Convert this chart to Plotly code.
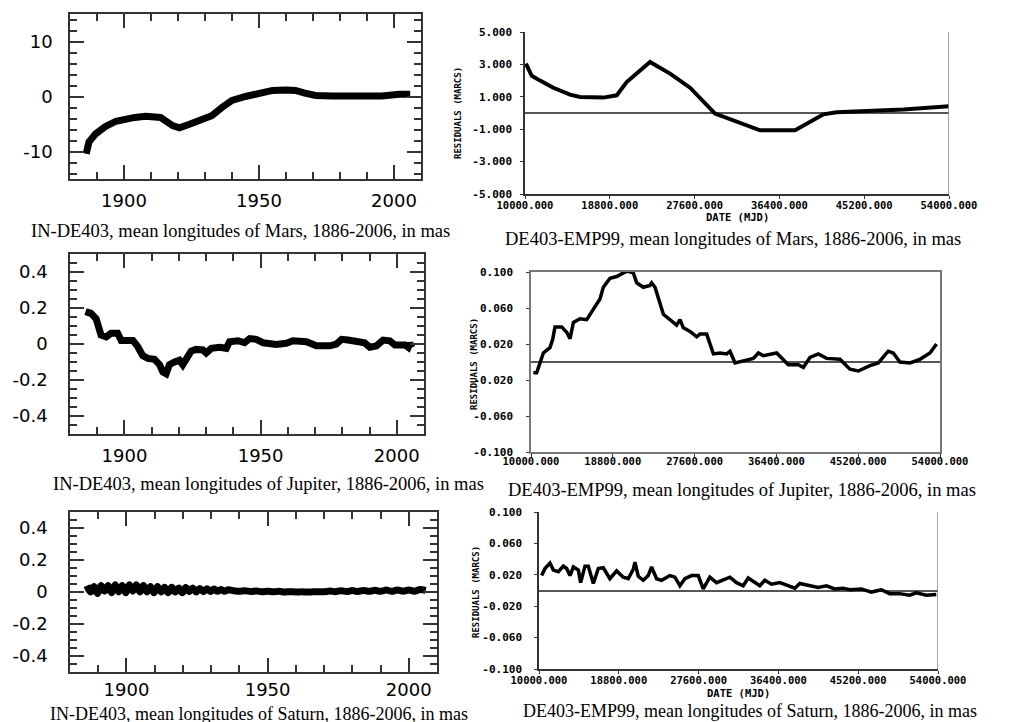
import plotly.graph_objects as go

W, H = 1030, 722
OFF = 8  # page body margin offset of the rendered figure

# ---------------- data ----------------
# Left column: IN-DE403 (years, mas)
mars_l_years = [1886, 1887, 1889.5, 1893, 1897, 1900, 1904, 1908, 1911.5, 1913.5, 1918, 1920.5,
                1924, 1929, 1932.5, 1936.5, 1940, 1945, 1950, 1955, 1960, 1963.5, 1967, 1971,
                1977, 1983, 1989.5, 1995.5, 2002, 2005, 2006]
mars_l_vals = [-10.4, -8.3, -6.8, -5.5, -4.5, -4.1, -3.8, -3.6, -3.8, -3.8, -5.3, -5.7,
               -5.1, -4.2, -3.5, -1.9, -0.7, 0.0, 0.6, 1.1, 1.2, 1.1, 0.6, 0.2,
               0.1, 0.0, -0.1, 0.1, 0.4, 0.5, 0.4]

jup_l_years = [1885.7, 1887.7, 1889.6, 1890.8, 1891.4, 1893.3, 1895.1, 1897.5, 1898.8, 1900.6,
               1903.1, 1904.9, 1906.7, 1908.6, 1911.0, 1912.9, 1914.1, 1915.3, 1916.5, 1918.4,
               1920.2, 1921.4, 1922.7, 1924.5, 1926.3, 1928.8, 1930.0, 1931.9, 1934.9, 1937.4,
               1938.6, 1941.7, 1944.1, 1946.0, 1948.4, 1950.9, 1955.8, 1959.4, 1961.9, 1966.8,
               1970.5, 1975.4, 1977.8, 1979.7, 1982.1, 1985.2, 1988.2, 1990.1, 1992.5, 1995.0,
               1997.4, 1999.3, 2001.1, 2003.0, 2004.2, 2004.8, 2005.6]
jup_l_vals = [0.18, 0.17, 0.14, 0.09, 0.05, 0.04, 0.06, 0.06, 0.02, 0.02,
              0.02, -0.015, -0.065, -0.08, -0.085, -0.115, -0.155, -0.165, -0.115, -0.10,
              -0.09, -0.115, -0.09, -0.04, -0.03, -0.033, -0.05, -0.024, -0.018, -0.024,
              0.013, 0.018, 0.007, 0.03, 0.026, 0.007, -0.002, 0.004, 0.018, 0.013,
              -0.01, -0.01, 0.0, 0.026, 0.022, 0.013, 0.007, -0.018, -0.011, 0.022,
              0.018, -0.005, -0.005, -0.005, -0.018, 0.004, -0.02]

sat_l_years = [1886, 1887.25, 1888.5, 1889.75, 1891, 1892.25, 1893.5, 1894.75, 1896, 1897.25,
               1898.5, 1899.75, 1901, 1902.25, 1903.5, 1904.75, 1906, 1907.25, 1908.5, 1909.75,
               1911, 1912.25, 1913.5, 1914.75, 1916, 1917.25, 1918.5, 1919.75, 1921, 1922.25,
               1923.5, 1924.75, 1926, 1927.25, 1928.5, 1929.75, 1931, 1932.25, 1933.5, 1934.75,
               1936,
               1938, 1940, 1942, 1944, 1946, 1948, 1950, 1952, 1954, 1956,
               1958, 1960, 1962, 1964, 1966, 1968, 1970, 1972, 1974, 1976,
               1978, 1980, 1982, 1984, 1986, 1988, 1990, 1992, 1994, 1996,
               1998, 2000, 2002, 2004, 2006]
sat_l_vals = [0.04, 0.0, 0.035, -0.01, 0.04, 0.005, 0.04, -0.005, 0.045, 0.0,
              0.04, -0.005, 0.045, 0.005, 0.045, 0.0, 0.04, 0.0, 0.035, -0.005,
              0.035, 0.0, 0.03, -0.005, 0.03, 0.0, 0.025, -0.005, 0.028, 0.002,
              0.025, 0.0, 0.022, 0.002, 0.02, 0.003, 0.018, 0.004, 0.016, 0.004,
              0.014,
              0.008, 0.004, 0.008, 0.003, 0.006, 0.002, 0.005, 0.001, 0.004, 0.0,
              0.002, 0.0, 0.001, 0.0, 0.001, 0.002, 0.001, 0.006, 0.002, 0.008,
              0.003, 0.009, 0.003, 0.01, 0.004, 0.011, 0.004, 0.012, 0.004, 0.013,
              0.005, 0.013, 0.005, 0.015, 0.01]

# Right column: DE403-EMP99 residuals (MJD, marcs)
mars_r_mjd = [10100, 10700, 11560, 12940, 14670, 15710, 18130, 19515, 20550, 22975,
              25050, 27130, 29720, 31970, 34390, 38030, 38890, 40970, 42350, 45810,
              49270, 54000]
mars_r_vals = [3.05, 2.3, 2.0, 1.56, 1.13, 0.99, 0.95, 1.09, 1.91, 3.15,
               2.43, 1.56, -0.04, -0.56, -1.07, -1.07, -0.76, -0.08, 0.04, 0.10,
               0.21, 0.41]

jup_r_mjd = [10250, 10610, 10970, 11330, 12040, 12330, 12580, 13300, 13840, 14200,
             14560, 15270, 15990, 16350, 17420, 17780, 18500, 19220, 19930, 20290,
             21010, 21370, 22080, 22800, 22980, 23340, 24240, 24960, 25670, 26030,
             26390, 27110, 27820, 28180, 28900, 29620, 30330, 31050, 31410, 31950,
             32840, 33920, 34460, 34990, 36430, 37680, 38760, 39300, 40010, 40910,
             41800, 43240, 44310, 45210, 46460, 47360, 48430, 48970, 49690, 50770,
             51840, 52920, 53630]
jup_r_vals = [-0.012, -0.012, -0.001, 0.010, 0.016, 0.025, 0.039, 0.039, 0.033, 0.026,
              0.044, 0.048, 0.047, 0.053, 0.070, 0.083, 0.093, 0.095, 0.099, 0.101,
              0.099, 0.088, 0.083, 0.085, 0.088, 0.083, 0.053, 0.047, 0.041, 0.047,
              0.038, 0.034, 0.028, 0.031, 0.031, 0.009, 0.010, 0.009, 0.012, -0.001,
              0.001, 0.004, 0.010, 0.007, 0.010, -0.003, -0.003, -0.006, 0.005, 0.009,
              0.004, 0.003, -0.008, -0.010, -0.004, -0.001, 0.012, 0.010, 0.000, -0.001,
              0.003, 0.010, 0.020]

sat_r_mjd = [10290, 10660, 11210, 11580, 12130, 12680, 13050, 13420, 13790, 14340,
             14590, 15070, 15440, 15990, 16540, 17090, 17820, 18560, 19290, 19840,
             20390, 20580, 20950, 21500, 22050, 22410, 22970, 23520, 24440, 24990,
             25540, 26090, 26820, 27560, 28110, 28840, 29580, 30310, 31050, 31780,
             32520, 33070, 33800, 34350, 34900, 35640, 36560, 37470, 38210, 38760,
             39860, 40780, 41700, 42610, 43530, 44270, 45550, 46650, 47750, 48670,
             49770, 50870, 51610, 52710, 53810]
sat_r_vals = [0.019, 0.028, 0.035, 0.026, 0.024, 0.031, 0.028, 0.019, 0.030, 0.026,
              0.010, 0.031, 0.031, 0.009, 0.028, 0.029, 0.015, 0.025, 0.017, 0.015,
              0.027, 0.036, 0.018, 0.013, 0.019, 0.030, 0.015, 0.013, 0.019, 0.017,
              0.006, 0.015, 0.019, 0.019, 0.002, 0.017, 0.010, 0.013, 0.017, 0.010,
              0.006, 0.016, 0.010, 0.006, 0.013, 0.008, 0.010, 0.006, 0.003, 0.009,
              0.006, 0.004, 0.006, 0.002, 0.003, 0.001, 0.002, -0.002, 0.001, -0.004,
              -0.004, -0.006, -0.003, -0.006, -0.005]

year_ticks = [1900, 1950, 2000]
mjd_ticks = [10000, 18800, 27600, 36400, 45200, 54000]
mjd_labels = ["10000.000", "18800.000", "27600.000", "36400.000", "45200.000", "54000.000"]

captions = [
    "IN-DE403, mean longitudes of Mars, 1886-2006, in mas",
    "IN-DE403, mean longitudes of Jupiter, 1886-2006, in mas",
    "IN-DE403, mean longitudes of Saturn, 1886-2006, in mas",
    "DE403-EMP99, mean longitudes of Mars, 1886-2006, in mas",
    "DE403-EMP99, mean longitudes of Jupiter, 1886-2006, in mas",
    "DE403-EMP99, mean longitudes of Saturn, 1886-2006, in mas",
]

# ---------------- layout helpers ----------------
def dx(a, b):
    return [(a - OFF) / W, (b - OFF) / W]

def dy(top, bottom):
    return [1 - (bottom - OFF) / H, 1 - (top - OFF) / H]

LEFT_FONT = dict(family="DejaVu Sans", size=18, color="black")
RIGHT_FONT = dict(family="DejaVu Sans Mono", size=11, color="black", weight="bold")
RIGHT_XFONT = dict(family="DejaVu Sans Mono", size=10.5, color="black", weight="bold")

def left_x(domain, anchor, standoff=5):
    return dict(domain=domain, anchor=anchor, range=[1880, 2010], tickvals=year_ticks,
                ticks="inside", ticklen=14, tickwidth=1.5, tickcolor="#333",
                minor=dict(dtick=10, tick0=1880, ticks="inside", ticklen=7, tickwidth=1.5, tickcolor="#333"),
                showline=True, linecolor="#333", linewidth=1.5, mirror="allticks",
                showgrid=False, zeroline=False, tickfont=LEFT_FONT, ticklabelstandoff=standoff,
                automargin=False)

def left_y(domain, anchor, rng, tv, tt, minor_dt, standoff):
    return dict(domain=domain, anchor=anchor, range=rng, tickvals=tv, ticktext=tt,
                ticks="inside", ticklen=14, tickwidth=1.5, tickcolor="#333",
                minor=dict(dtick=minor_dt, tick0=0, ticks="inside", ticklen=7, tickwidth=1.5, tickcolor="#333"),
                showline=True, linecolor="#333", linewidth=1.5, mirror="allticks",
                showgrid=False, zeroline=False, tickfont=LEFT_FONT, ticklabelstandoff=standoff,
                automargin=False)

def right_x(domain, anchor, lc, mirror, standoff):
    return dict(domain=domain, anchor=anchor, range=[10000, 54000], tickvals=mjd_ticks,
                ticktext=mjd_labels, ticks="outside", ticklen=3, tickwidth=1, tickcolor="#333",
                showline=True, linecolor=lc, linewidth=1.5, mirror=mirror,
                showgrid=False, zeroline=False, tickfont=RIGHT_XFONT, ticklabelstandoff=standoff,
                automargin=False)

def right_y(domain, anchor, rng, tv, tt, lc, mirror, standoff):
    return dict(domain=domain, anchor=anchor, range=rng, tickvals=tv, ticktext=tt,
                ticks="outside", ticklen=3, tickwidth=1, tickcolor="#333",
                showline=True, linecolor=lc, linewidth=1.5, mirror=mirror,
                showgrid=False, zeroline=True, zerolinecolor="#555", zerolinewidth=1.5,
                tickfont=RIGHT_FONT, ticklabelstandoff=standoff, automargin=False)

fig = go.Figure()

line_l = dict(color="black", width=7)
line_r = dict(color="black", width=3.5)

fig.add_trace(go.Scatter(x=mars_l_years, y=mars_l_vals, mode="lines", line=line_l, xaxis="x", yaxis="y"))
fig.add_trace(go.Scatter(x=jup_l_years, y=jup_l_vals, mode="lines", line=line_l, xaxis="x2", yaxis="y2"))
fig.add_trace(go.Scatter(x=sat_l_years, y=sat_l_vals, mode="lines",
                         line=dict(color="black", width=7, shape="spline", smoothing=0.8),
                         xaxis="x3", yaxis="y3"))
fig.add_trace(go.Scatter(x=mars_r_mjd, y=mars_r_vals, mode="lines", line=dict(color="black", width=4), xaxis="x4", yaxis="y4"))
fig.add_trace(go.Scatter(x=jup_r_mjd, y=jup_r_vals, mode="lines", line=line_r, xaxis="x5", yaxis="y5"))
fig.add_trace(go.Scatter(x=sat_r_mjd, y=sat_r_vals, mode="lines", line=line_r, xaxis="x6", yaxis="y6"))

fig.update_layout(
    template="none",
    width=W, height=H, autosize=False, showlegend=False,
    margin=dict(l=0, r=0, t=0, b=0, pad=0),
    paper_bgcolor="white", plot_bgcolor="white",
    xaxis=left_x(dx(70, 421), "y"),
    yaxis=left_y(dy(14, 179), "x", [-15, 15], [-10, 0, 10], ["-10", "0", "10"], 2, 12),
    xaxis2=left_x(dx(70, 424), "y2"),
    yaxis2=left_y(dy(254, 434), "x2", [-0.5, 0.5], [-0.4, -0.2, 0, 0.2, 0.4],
                  ["-0.4", "-0.2", "0", "0.2", "0.4"], 0.05, 17),
    xaxis3=left_x(dx(70, 437), "y3", 1),
    yaxis3=left_y(dy(512, 672), "x3", [-0.5, 0.5], [-0.4, -0.2, 0, 0.2, 0.4],
                  ["-0.4", "-0.2", "0", "0.2", "0.4"], 0.05, 17),
    xaxis4=right_x(dx(525, 949), "y4", "#333", False, -2),
    yaxis4=right_y(dy(32, 194), "x4", [-5, 5], [5, 3, 1, -1, -3, -5],
                   ["5.000", "3.000", "1.000", "-1.000", "-3.000", "-5.000"], "#333", False, 6),
    xaxis5=right_x(dx(531, 940), "y5", "#777", True, -4),
    yaxis5=right_y(dy(272, 452), "x5", [-0.1, 0.1], [0.1, 0.06, 0.02, -0.02, -0.06, -0.1],
                   ["0.100", "0.060", "0.020", "-0.020", "-0.060", "-0.100"], "#777", True, 11),
    xaxis6=right_x(dx(539, 938), "y6", "#333", False, -2),
    yaxis6=right_y(dy(512, 669), "x6", [-0.1, 0.1], [0.1, 0.06, 0.02, -0.02, -0.06, -0.1],
                   ["0.100", "0.060", "0.020", "-0.020", "-0.060", "-0.100"], "#333", False, 10),
)

# right-hand vertical border for the Mars and Saturn residual plots
fig.add_shape(type="line", xref="x4", yref="y4", x0=54000, x1=54000, y0=-5, y1=5,
              line=dict(color="#888", width=1.5))
fig.add_shape(type="line", xref="x6", yref="y6", x0=54000, x1=54000, y0=-0.1, y1=0.1,
              line=dict(color="#888", width=1.5))

def ann(text, px, py, size, family, angle=0, weight="normal"):
    fig.add_annotation(text=text, xref="paper", yref="paper", x=(px - OFF) / W,
                       y=1 - (py - OFF) / H,
                       xanchor="center", yanchor="middle", showarrow=False, textangle=angle,
                       font=dict(family=family, size=size, color="black", weight=weight))

SERIF = "Liberation Serif"
cap_pos = [(240, 231), (268, 484), (259, 714), (733, 239), (742, 490), (750, 711)]
cap_size = [18.5, 18.5, 18, 18.5, 18.5, 18]
for t, (px, py), s in zip(captions, cap_pos, cap_size):
    ann(t, px, py, s, SERIF)

MONO = "DejaVu Sans Mono"
ann("DATE (MJD)", 737, 217, 10.5, MONO, weight="bold")
ann("DATE (MJD)", 738, 693, 10.5, MONO, weight="bold")
ann("RESIDUALS (MARCS)", 458, 113, 9, MONO, angle=-90, weight="bold")
ann("RESIDUALS (MARCS)", 474, 364, 9, MONO, angle=-90, weight="bold")
ann("RESIDUALS (MARCS)", 476, 592, 9, MONO, angle=-90, weight="bold")

fig.write_html("out.html")
